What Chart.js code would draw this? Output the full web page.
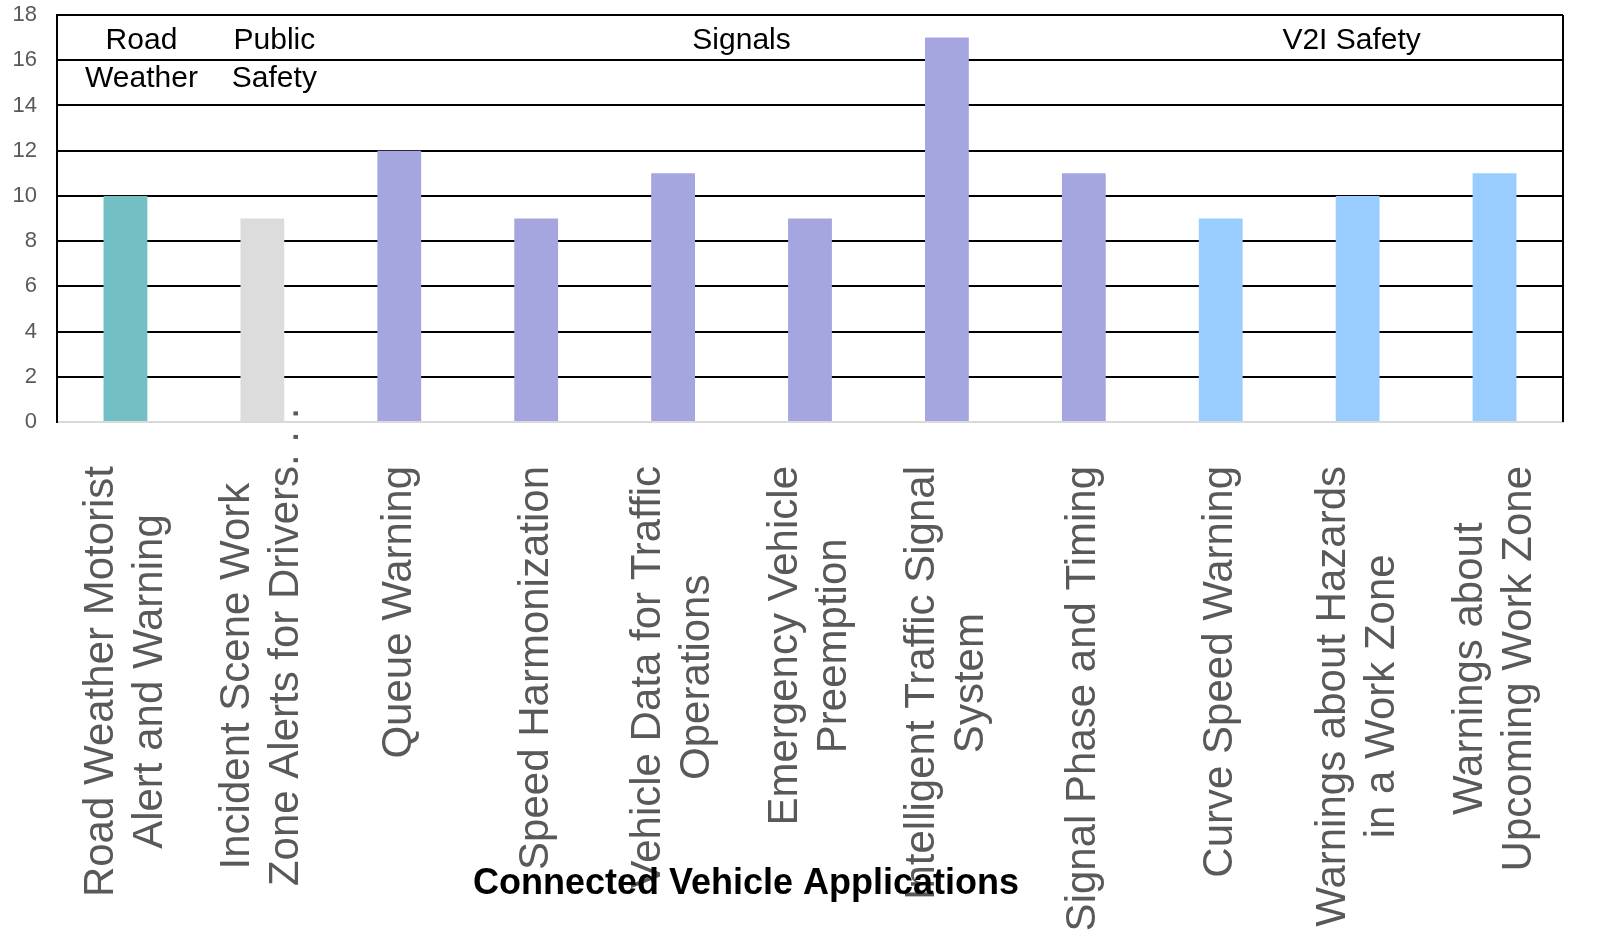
<!DOCTYPE html>
<html>
<head>
<meta charset="utf-8">
<script src="https://cdn.jsdelivr.net/npm/chart.js@4.4.1/dist/chart.umd.min.js"></script>
<style>
    body { margin: 0; background: #fff; }
    canvas { display: block; }
</style>
</head>
<body>
<canvas id="chart" width="1610" height="935"></canvas>
<script>
// categories, one entry per bar, split in the lines shown under the axis
const categories = [
    ["Road Weather Motorist", "Alert and Warning"],
    ["Incident Scene Work", "Zone Alerts for Drivers. . ."],
    ["Queue Warning"],
    ["Speed Harmonization"],
    ["Vehicle Data for Traffic", "Operations"],
    ["Emergency Vehicle", "Preemption"],
    ["Intelligent Traffic Signal", "System"],
    ["Signal Phase and Timing"],
    ["Curve Speed Warning"],
    ["Warnings about Hazards", "in a Work Zone"],
    ["Warnings about", "Upcoming Work Zone"]
];
const counts = [10, 9, 12, 9, 11, 9, 17, 11, 9, 10, 11];
const groupNames = [["Road", "Weather"], ["Public", "Safety"], ["Signals"], ["V2I Safety"]];
const groupOf = [0, 1, 2, 2, 2, 2, 2, 2, 3, 3, 3];
const yTicks = [0, 2, 4, 6, 8, 10, 12, 14, 16, 18];
const axisTitle = "Connected Vehicle Applications";

const groupColors = ['#72C0C4', '#DCDCDC', '#A5A5E0', '#99CCFF'];
const FONT = "'Liberation Sans', Arial, sans-serif";

const labelsPlugin = {
    id: 'labelsPlugin',
    afterDraw(chart, args, opts) {
        const ctx = chart.ctx;
        const area = chart.chartArea;
        const x = chart.scales.x;

        ctx.save();
        // right frame line
        ctx.strokeStyle = '#000';
        ctx.lineWidth = 2;
        ctx.beginPath();
        ctx.moveTo(area.right, area.top);
        ctx.lineTo(area.right, area.bottom);
        ctx.stroke();

        // group names across the top
        ctx.fillStyle = '#000';
        ctx.font = '30px ' + FONT;
        ctx.textAlign = 'center';
        ctx.textBaseline = 'middle';
        groupNames.forEach((lines, g) => {
            let px = [];
            groupOf.forEach((gi, i) => { if (gi === g) px.push(x.getPixelForValue(i)); });
            let cx = px.reduce((a, b) => a + b, 0) / px.length + opts.nudge[g];
            lines.forEach((ln, k) => {
                ctx.fillText(ln, cx, area.top + 26 + k * 38);
            });
        });

        // category labels, rotated, lines centred on each other
        ctx.fillStyle = '#595959';
        ctx.font = '42px ' + FONT;
        const lineH = 49;
        const top = area.bottom + 44;
        categories.forEach((lines, i) => {
            const cx = x.getPixelForValue(i);
            const widths = lines.map(l => ctx.measureText(l.replace(/[. ]+$/, '')).width);
            const maxW = Math.max(...widths);
            ctx.save();
            ctx.translate(cx, top + maxW / 2);
            ctx.rotate(-Math.PI / 2);
            ctx.textAlign = 'left';
            lines.forEach((ln, k) => {
                ctx.fillText(ln, -widths[k] / 2, (k - (lines.length - 1) / 2) * lineH);
            });
            ctx.restore();
        });

        // axis title drawn over the labels
        ctx.fillStyle = '#000';
        ctx.font = 'bold 36px ' + FONT;
        ctx.textAlign = 'center';
        ctx.fillText(axisTitle, 746, 884);
        ctx.restore();
    }
};

new Chart(document.getElementById('chart'), {
    type: 'bar',
    data: {
        labels: categories.map(c => c.join(' ')),
        datasets: [{
            data: counts,
            backgroundColor: groupOf.map(g => groupColors[g]),
            borderWidth: 0,
            categoryPercentage: 1,
            barPercentage: 0.32
        }]
    },
    options: {
        responsive: false,
        animation: false,
        devicePixelRatio: 1,
        layout: { padding: { top: 15, right: 47, left: 0, bottom: 0 } },
        plugins: {
            legend: { display: false },
            tooltip: { enabled: false },
            labelsPlugin: { nudge: [16, 12, 0, -6] }
        },
        scales: {
            x: {
                grid: { display: false },
                border: { color: '#D9D9D9', width: 2 },
                ticks: { display: false },
                afterFit(scale) { scale.height = 513; }
            },
            y: {
                min: 0,
                max: 18,
                afterBuildTicks(scale) { scale.ticks = yTicks.map(v => ({ value: v })); },
                afterFit(scale) {
                    scale.width = 57;
                    scale.paddingTop = 0;
                    scale.paddingBottom = 0;
                },
                grid: {
                    color: c => c.tick.value === 0 ? '#D9D9D9' : '#000',
                    lineWidth: 2,
                    drawTicks: false
                },
                border: { color: '#000', width: 2 },
                ticks: {
                    color: '#595959',
                    padding: 20,
                    font: { family: FONT, size: 22 }
                }
            }
        }
    },
    plugins: [labelsPlugin]
});
</script>
</body>
</html>
